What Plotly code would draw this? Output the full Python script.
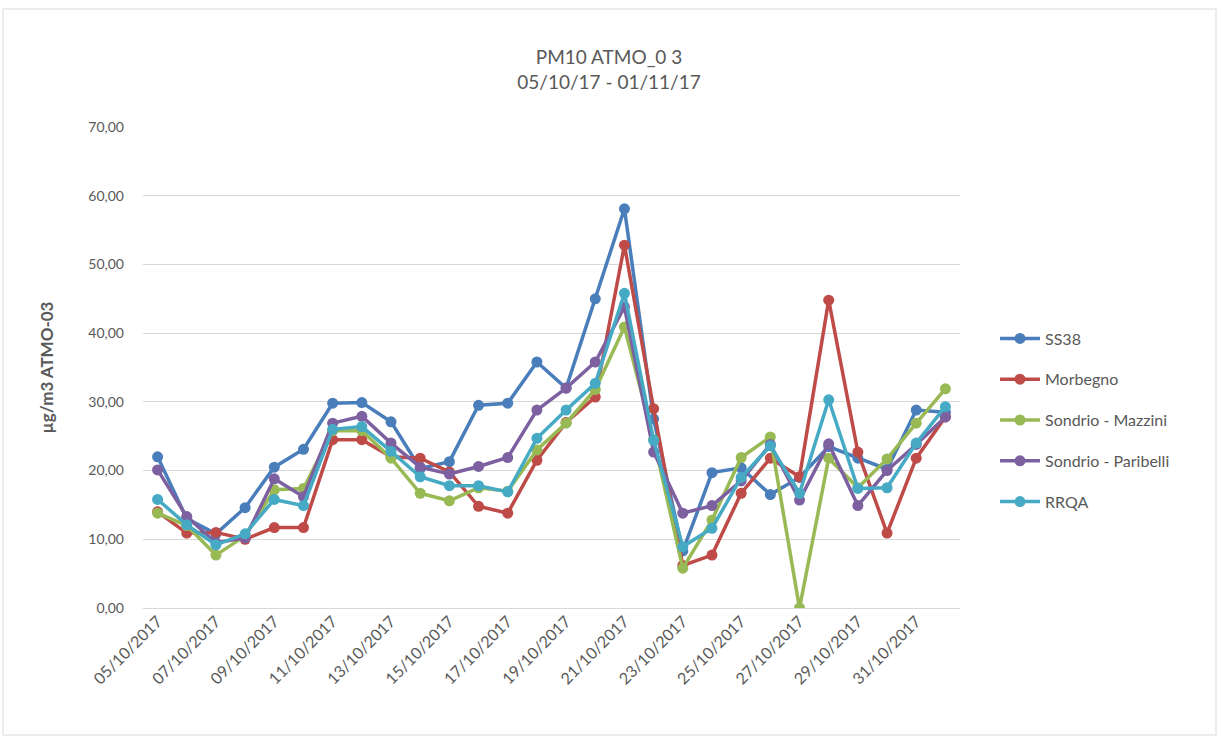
import plotly.graph_objects as go

# Daily PM10 readings, 05/10/2017 - 01/11/2017
dates = [
    "05/10/2017", "06/10/2017", "07/10/2017", "08/10/2017", "09/10/2017", "10/10/2017",
    "11/10/2017", "12/10/2017", "13/10/2017", "14/10/2017", "15/10/2017", "16/10/2017",
    "17/10/2017", "18/10/2017", "19/10/2017", "20/10/2017", "21/10/2017", "22/10/2017",
    "23/10/2017", "24/10/2017", "25/10/2017", "26/10/2017", "27/10/2017", "28/10/2017",
    "29/10/2017", "30/10/2017", "31/10/2017", "01/11/2017",
]

ss38 = [22.0, 13.0, 10.8, 14.6, 20.5, 23.1, 29.8, 29.9, 27.1, 20.3, 21.3, 29.5, 29.8, 35.8,
        32.0, 45.0, 58.1, 27.5, 8.3, 19.7, 20.4, 16.5, 19.0, 23.5, 21.8, 20.2, 28.8, 28.5]
morbegno = [14.0, 10.9, 11.0, 10.0, 11.7, 11.7, 24.5, 24.5, 22.0, 21.8, 19.8, 14.8, 13.8, 21.5,
            27.0, 30.7, 52.8, 29.0, 6.2, 7.7, 16.7, 21.8, 19.1, 44.8, 22.7, 10.9, 21.8, 27.8]
mazzini = [13.8, 12.0, 7.7, 10.5, 17.2, 17.4, 25.8, 25.8, 21.8, 16.7, 15.6, 17.5, 17.0, 23.0,
           26.9, 31.8, 40.9, 24.5, 5.8, 12.8, 21.9, 24.9, 0.0, 21.8, 17.5, 21.7, 26.9, 31.9]
paribelli = [20.1, 13.3, 9.5, 10.2, 18.8, 16.2, 26.9, 27.9, 24.0, 20.5, 19.5, 20.6, 21.9, 28.8,
             32.0, 35.8, 43.8, 22.7, 13.8, 14.9, 18.5, 23.8, 15.7, 23.9, 14.9, 20.0, 23.8, 27.8]
rrqa = [15.8, 12.1, 9.2, 10.8, 15.8, 14.9, 26.0, 26.4, 22.8, 19.1, 17.8, 17.8, 16.9, 24.7,
        28.8, 32.7, 45.8, 24.4, 8.9, 11.6, 19.0, 23.6, 16.7, 30.3, 17.4, 17.5, 24.0, 29.3]

series_names = ["SS38", "Morbegno", "Sondrio - Mazzini", "Sondrio - Paribelli", "RRQA"]
series_values = [ss38, morbegno, mazzini, paribelli, rrqa]
series_colors = ["#4A7EBB", "#BE4B48", "#98B954", "#7D60A0", "#46AAC5"]

y_ticks = [0, 10, 20, 30, 40, 50, 60, 70]
x_ticks = dates[::2][:14]

FONT = "Lato, 'Open Sans', sans-serif"
GRAY = "#595959"

fig = go.Figure()
for i, (name, vals, col) in enumerate(zip(series_names, series_values, series_colors)):
    fig.add_trace(go.Scatter(
        x=dates, y=vals, name=name, mode="lines+markers",
        line=dict(color=col, width=3.5),
        marker=dict(color=col, size=11),
        legendgroup=f"g{i}",
    ))

# plot area in pixels: x 143..960, y 127..608 on a 1218x737 page
L, R, T, B = 143, 258, 127, 129
W, H = 1218, 737
pw, ph = W - L - R, H - T - B

def px_x(v):
    return (v - L) / pw

def px_y(v):
    return (H - B - v) / ph

fig.update_layout(
    width=W, height=H,
    margin=dict(l=L, r=R, t=T, b=B),
    paper_bgcolor="white", plot_bgcolor="white",
    separators=",.",
    font=dict(family=FONT, color=GRAY),
    title=dict(
        text="PM10 ATMO_0 3<br>05/10/17 - 01/11/17",
        x=0.5, xref="container", xanchor="center",
        y=1 - 64 / H, yref="container", yanchor="middle",
        font=dict(family=FONT, size=19, color=GRAY),
    ),
    xaxis=dict(
        type="category", tickmode="array", tickvals=x_ticks, ticktext=x_ticks,
        tickangle=-45, showgrid=False, showline=False, ticks="",
        tickfont=dict(family=FONT, size=16, color=GRAY),
        range=[-0.5, len(dates) - 0.5],
    ),
    yaxis=dict(
        range=[0, 70], tickvals=y_ticks, tickformat=".2f",
        showgrid=True, gridcolor="#D9D9D9", gridwidth=1,
        zeroline=True, zerolinecolor="#D9D9D9", zerolinewidth=1,
        showline=False, ticks="", ticklabelstandoff=18,
        tickfont=dict(family=FONT, size=14, color=GRAY),
        title=dict(text="<b>µg/m3 ATMO-03</b>", standoff=30,
                   font=dict(family=FONT, size=17, color=GRAY)),
    ),
    legend=dict(
        x=px_x(995), y=px_y(420), xanchor="left", yanchor="middle",
        font=dict(family=FONT, size=16, color=GRAY),
        tracegroupgap=17, bgcolor="rgba(0,0,0,0)", itemwidth=40,
    ),
    shapes=[dict(
        type="rect", xref="paper", yref="paper",
        x0=px_x(3), x1=px_x(1216), y0=px_y(735), y1=px_y(9),
        line=dict(color="#D9D9D9", width=1), layer="below",
    )],
)

fig.write_html("out.html")
